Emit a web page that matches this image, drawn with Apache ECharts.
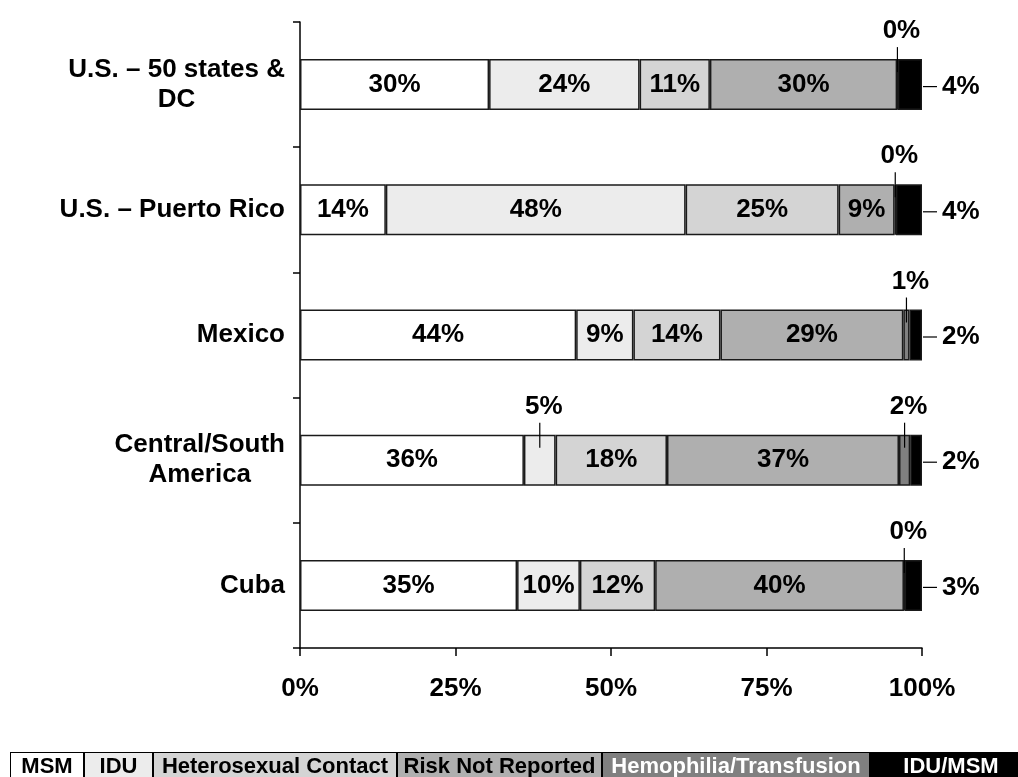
<!DOCTYPE html>
<html>
<head>
<meta charset="utf-8">
<script src="https://cdn.jsdelivr.net/npm/echarts@6/dist/echarts.min.js"></script>
<style>
html,body{margin:0;padding:0;background:#fff;}
#chart{width:1018px;height:777px;}
</style>
</head>
<body>
<div id="chart"></div>
<script>
// ---- data ----
const categories = ['U.S. – 50 states &\nDC', 'U.S. – Puerto Rico', 'Mexico', 'Central/South\nAmerica', 'Cuba'];
const seriesNames = ['MSM', 'IDU', 'Heterosexual Contact', 'Risk Not Reported', 'Hemophilia/Transfusion', 'IDU/MSM'];
const msm    = [30.4, 13.8, 44.4, 36.0, 34.9];
const idu    = [24.2, 48.2,  9.2,  5.1, 10.1];
const hetero = [11.3, 24.6, 14.0, 17.9, 12.1];
const rnr    = [30.1,  9.0, 29.4, 37.3, 40.0];
const hemo   = [ 0.1,  0.2,  1.0,  1.8,  0.1];
const iduMsm = [ 3.9,  4.2,  2.0,  1.9,  2.8];
const xTicks = [0, 25, 50, 75, 100];

// ---- style ----
const FONT = '"Liberation Sans", Arial, Helvetica, sans-serif';
const colors = ['#ffffff', '#ececec', '#d4d4d4', '#afafaf', '#808080', '#000000'];
const legendTextColors = ['#000', '#000', '#000', '#000', '#ffffff', '#ffffff'];
const legendWidths = [72, 67, 242, 203, 266, 160];
const BAR_W = 51;
const LABEL_SIZE = 26;
const MIN_INSIDE = 6;

const allSeries = [msm, idu, hetero, rnr, hemo, iduMsm];

const barSeries = allSeries.map((arr, si) => ({
  name: seriesNames[si],
  type: 'bar',
  stack: 'total',
  barWidth: BAR_W,
  data: arr,
  itemStyle: { color: colors[si], borderColor: '#1a1a1a', borderWidth: 1.5 },
  label: {
    show: si < 4,
    position: 'inside',
    fontFamily: FONT, fontWeight: 'bold', fontSize: LABEL_SIZE, color: '#000',
    formatter: p => (p.value >= MIN_INSIDE ? Math.round(p.value) + '%' : '')
  },
  emphasis: { disabled: true }
}));

// callouts (values too small for an inside label)
const calloutData = [];
const calloutText = [];
categories.forEach((c, ci) => {
  let cum = 0;
  allSeries.forEach((arr, si) => {
    const v = arr[ci];
    if (si === 5) {
      calloutData.push([cum + v, ci, 1]);
      calloutText.push(Math.round(v) + '%');
    } else if (si === 4 || (si < 4 && v < MIN_INSIDE)) {
      calloutData.push([cum + v / 2, ci, 0]);
      calloutText.push(Math.round(v) + '%');
    }
    cum += v;
  });
});

const calloutSeries = {
  type: 'custom',
  z: 10,
  silent: true,
  data: calloutData,
  encode: { x: 0, y: 1 },
  renderItem: (params, api) => {
    const pt = api.coord([api.value(0), api.value(1)]);
    const kind = api.value(2);
    const text = calloutText[params.dataIndex];
    const top = pt[1] - BAR_W / 2;
    if (kind === 0) {
      return {
        type: 'group',
        children: [
          { type: 'line', shape: { x1: pt[0], y1: top - 12, x2: pt[0], y2: top + 13 },
            style: { stroke: '#000', lineWidth: 1.2 } },
          { type: 'text', x: pt[0] + 4, y: top - 28,
            style: { text: text, font: 'bold ' + LABEL_SIZE + 'px ' + FONT, fill: '#000',
                     align: 'center', verticalAlign: 'middle' } }
        ]
      };
    }
    return {
      type: 'group',
      children: [
        { type: 'line', shape: { x1: pt[0] + 1, y1: pt[1] + 2, x2: pt[0] + 15, y2: pt[1] + 2 },
          style: { stroke: '#000', lineWidth: 1.2 } },
        { type: 'text', x: pt[0] + 20, y: pt[1] + 2,
          style: { text: text, font: 'bold ' + LABEL_SIZE + 'px ' + FONT, fill: '#000',
                   align: 'left', verticalAlign: 'middle' } }
      ]
    };
  }
};

const legendRich = {};
seriesNames.forEach((n, i) => {
  legendRich['s' + i] = {
    backgroundColor: colors[i], borderColor: '#000', borderWidth: 1,
    width: legendWidths[i], height: 28, align: 'center',
    color: legendTextColors[i], fontFamily: FONT, fontWeight: 'bold', fontSize: 22
  };
});

const option = {
  animation: false,
  backgroundColor: '#fff',
  grid: { left: 300, right: 96, top: 22, bottom: 129, containLabel: false },
  xAxis: {
    type: 'value', min: xTicks[0], max: xTicks[xTicks.length - 1], interval: 25,
    axisLine: { show: true, lineStyle: { color: '#000', width: 1.5 } },
    axisTick: { show: true, length: 8, lineStyle: { color: '#000', width: 1.5 } },
    splitLine: { show: false },
    axisLabel: { formatter: '{value}%', margin: 28, color: '#000', fontFamily: FONT, fontWeight: 'bold', fontSize: LABEL_SIZE }
  },
  yAxis: {
    type: 'category', inverse: true, data: categories,
    axisLine: { show: true, lineStyle: { color: '#000', width: 1.5 } },
    axisTick: { show: true, length: 7, lineStyle: { color: '#000', width: 1.5 } },
    axisLabel: {
      margin: 15, color: '#000', align: 'right',
      formatter: v => v.split('\n').map(l => '{c|' + l + '}').join('\n'),
      rich: { c: { align: 'center', fontFamily: FONT, fontWeight: 'bold', fontSize: LABEL_SIZE, lineHeight: 30, color: '#000' } }
    }
  },
  legend: {
    data: seriesNames,
    left: 5, top: 752, padding: 0, width: 1400,
    itemGap: -5, itemWidth: 0, itemHeight: 0,
    selectedMode: false,
    formatter: name => '{s' + seriesNames.indexOf(name) + '|' + name + '}',
    textStyle: { rich: legendRich }
  },
  series: barSeries.concat([calloutSeries])
};

const chart = echarts.init(document.getElementById('chart'), null, { renderer: 'canvas' });
chart.setOption(option);
</script>
</body>
</html>
